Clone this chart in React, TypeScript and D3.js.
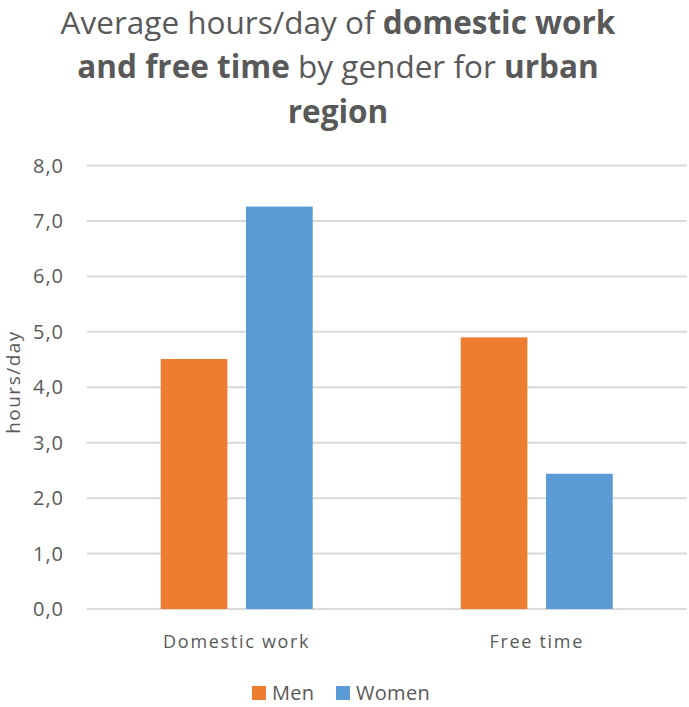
import React from "react";
import * as d3 from "d3";

const categories = ["Domestic work", "Free time"];
const seriesNames = ["Men", "Women"];
const menValues = [4.51, 4.9];
const womenValues = [7.26, 2.44];
const yTicks = [0, 1, 2, 3, 4, 5, 6, 7, 8];
const colors = ["#ED7D31", "#5B9BD5"];

const W = 689;
const H = 707;
const FONT = "'Open Sans', sans-serif";
const TEXT = "#595959";

export default function App() {
  const left = 86.7;
  const right = 686.7;
  const top = 165.5;
  const bottom = 609;

  const x0 = d3.scaleBand<string>().domain(categories).range([left, right]).paddingInner(0).paddingOuter(0);
  const y = d3.scaleLinear().domain([0, 8]).range([bottom, top]);
  const bw = x0.bandwidth();
  const barW = bw * 0.2223;
  const gap = bw * 0.062;
  const series = [menValues, womenValues];
  const fmt = (v: number) => v.toFixed(1).replace(".", ",");

  return (
    <svg width={W} height={H} style={{ position: "absolute", left: 0, top: 0, background: "#fff" }} fontFamily={FONT}>
      <rect width={W} height={H} fill="#fff" />
      <text textAnchor="middle" fill={TEXT} fontSize={31.5}>
        <tspan x={338} y={34}>Average hours/day of <tspan fontWeight="bold">domestic work</tspan></tspan>
        <tspan x={338} y={78}><tspan fontWeight="bold">and free time</tspan> by gender for <tspan fontWeight="bold">urban</tspan></tspan>
        <tspan x={338} y={123} fontWeight="bold">region</tspan>
      </text>
      {yTicks.map((t) => (
        <g key={t}>
          <line x1={left} x2={right} y1={y(t)} y2={y(t)} stroke="#D9D9D9" strokeWidth={2} />
          <text x={64} y={y(t) + 7} textAnchor="end" fontSize={20} fill={TEXT} letterSpacing={1}>{fmt(t)}</text>
        </g>
      ))}
      <text transform={`translate(20,${382}) rotate(-90)`} textAnchor="middle" fontSize={19} fill={TEXT} letterSpacing={1.5}>hours/day</text>
      {categories.map((c, ci) => {
        const center = (x0(c) as number) + bw / 2;
        return (
          <g key={c}>
            {series.map((s, si) => {
              const bx = si === 0 ? center - gap / 2 - barW : center + gap / 2;
              return <rect key={si} x={bx} y={y(s[ci])} width={barW} height={y(0) - y(s[ci])} fill={colors[si]} />;
            })}
            <text x={center} y={648} textAnchor="middle" fontSize={18} fill={TEXT} letterSpacing={1.7}>{c}</text>
          </g>
        );
      })}
      {seriesNames.map((n, i) => {
        const lx = i === 0 ? 252 : 336;
        return (
          <g key={n}>
            <rect x={lx} y={686} width={14} height={14} fill={colors[i]} />
            <text x={lx + 20} y={700} fontSize={20} fill={TEXT} letterSpacing={0.3}>{n}</text>
          </g>
        );
      })}
    </svg>
  );
}
